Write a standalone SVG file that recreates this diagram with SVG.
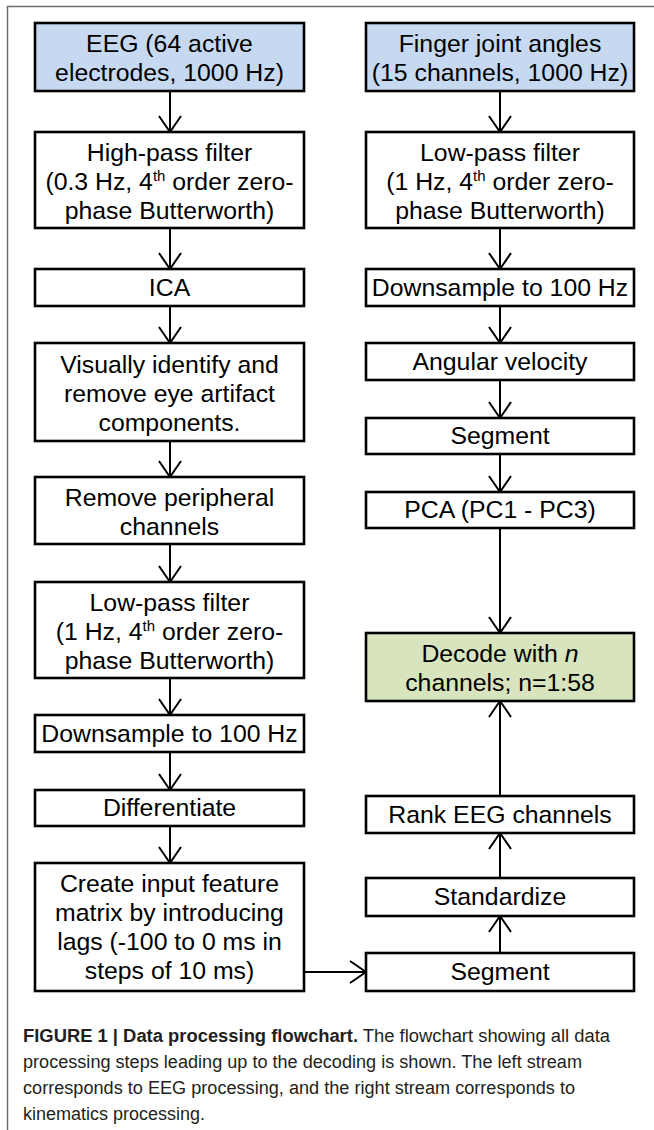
<svg xmlns="http://www.w3.org/2000/svg" width="654" height="1130" viewBox="0 0 654 1130">
<style>
.box{fill:#ffffff;stroke:#000000;stroke-width:2.6}
.blue{fill:#c6d9f1}
.green{fill:#d7e4bd}
.t{font-family:"Liberation Sans",Arial,sans-serif;font-size:24.8px;fill:#000000;text-anchor:middle}
.sup{font-size:15px}
.cap{font-family:"Liberation Sans",Arial,sans-serif;font-size:18px;fill:#231f20}
.conn{stroke:#000000;stroke-width:2;fill:none;marker-end:url(#arr)}
.frame{stroke:#6d6d6d;stroke-width:1.5;fill:none}
</style>
<defs>
<marker id="arr" markerUnits="userSpaceOnUse" markerWidth="22" markerHeight="28" viewBox="0 0 22 28" refX="19" refY="14" orient="auto">
<path d="M3,3 L19,14 L3,25" fill="none" stroke="#000000" stroke-width="2"/>
</marker>
</defs>
<rect width="654" height="1130" fill="#ffffff"/>
<path class="frame" d="M7.5,1130 L7.5,6.5 L654,6.5"/>

<g id="connectors">
<line class="conn" x1="170" y1="91" x2="170" y2="132"/>
<line class="conn" x1="170" y1="228" x2="170" y2="269"/>
<line class="conn" x1="170" y1="306" x2="170" y2="343"/>
<line class="conn" x1="170" y1="441" x2="170" y2="477"/>
<line class="conn" x1="170" y1="544" x2="170" y2="582"/>
<line class="conn" x1="170" y1="678" x2="170" y2="715"/>
<line class="conn" x1="170" y1="752" x2="170" y2="790"/>
<line class="conn" x1="170" y1="826" x2="170" y2="863"/>
<line class="conn" x1="500" y1="91" x2="500" y2="132"/>
<line class="conn" x1="500" y1="228" x2="500" y2="269"/>
<line class="conn" x1="500" y1="306" x2="500" y2="343"/>
<line class="conn" x1="500" y1="380" x2="500" y2="418"/>
<line class="conn" x1="500" y1="454" x2="500" y2="492"/>
<line class="conn" x1="500" y1="528" x2="500" y2="633"/>
<line class="conn" x1="500" y1="796" x2="500" y2="701"/>
<line class="conn" x1="500" y1="878" x2="500" y2="833"/>
<line class="conn" x1="500" y1="953" x2="500" y2="916"/>
<line class="conn" x1="304" y1="972" x2="366" y2="972"/>
</g>

<g id="eeg">
<rect class="box blue" x="35" y="23" width="269" height="68"/>
<text class="t" x="169.5" y="52">EEG (64 active</text>
<text class="t" x="169.5" y="81">electrodes, 1000 Hz)</text>
</g>
<g id="highpass">
<rect class="box" x="35" y="132" width="269" height="96"/>
<text class="t" x="169.5" y="161">High-pass filter</text>
<text class="t" x="169.5" y="190">(0.3 Hz, 4<tspan class="sup" dy="-9">th</tspan><tspan dy="9"> order zero-</tspan></text>
<text class="t" x="169.5" y="219">phase Butterworth)</text>
</g>
<g id="ica">
<rect class="box" x="35" y="269" width="269" height="37"/>
<text class="t" x="169.5" y="296">ICA</text>
</g>
<g id="visual">
<rect class="box" x="35" y="343" width="269" height="98"/>
<text class="t" x="169.5" y="373">Visually identify and</text>
<text class="t" x="169.5" y="402">remove eye artifact</text>
<text class="t" x="169.5" y="431">components.</text>
</g>
<g id="peripheral">
<rect class="box" x="35" y="477" width="269" height="67"/>
<text class="t" x="169.5" y="506">Remove peripheral</text>
<text class="t" x="169.5" y="535">channels</text>
</g>
<g id="lowpass-eeg">
<rect class="box" x="35" y="582" width="269" height="96"/>
<text class="t" x="169.5" y="611">Low-pass filter</text>
<text class="t" x="169.5" y="640">(1 Hz, 4<tspan class="sup" dy="-9">th</tspan><tspan dy="9"> order zero-</tspan></text>
<text class="t" x="169.5" y="669">phase Butterworth)</text>
</g>
<g id="downsample-eeg">
<rect class="box" x="35" y="715" width="269" height="37"/>
<text class="t" x="169.5" y="742">Downsample to 100 Hz</text>
</g>
<g id="differentiate">
<rect class="box" x="35" y="790" width="269" height="36"/>
<text class="t" x="169.5" y="816">Differentiate</text>
</g>
<g id="create">
<rect class="box" x="35" y="863" width="269" height="128"/>
<text class="t" x="169.5" y="892">Create input feature</text>
<text class="t" x="169.5" y="921">matrix by introducing</text>
<text class="t" x="169.5" y="950">lags (-100 to 0 ms in</text>
<text class="t" x="169.5" y="979">steps of 10 ms)</text>
</g>

<g id="finger">
<rect class="box blue" x="366" y="23" width="268" height="68"/>
<text class="t" x="500" y="52">Finger joint angles</text>
<text class="t" x="500" y="81">(15 channels, 1000 Hz)</text>
</g>
<g id="lowpass-kin">
<rect class="box" x="366" y="132" width="268" height="96"/>
<text class="t" x="500" y="161">Low-pass filter</text>
<text class="t" x="500" y="190">(1 Hz, 4<tspan class="sup" dy="-9">th</tspan><tspan dy="9"> order zero-</tspan></text>
<text class="t" x="500" y="219">phase Butterworth)</text>
</g>
<g id="downsample-kin">
<rect class="box" x="366" y="269" width="268" height="37"/>
<text class="t" x="500" y="296">Downsample to 100 Hz</text>
</g>
<g id="angular">
<rect class="box" x="366" y="343" width="268" height="37"/>
<text class="t" x="500" y="370">Angular velocity</text>
</g>
<g id="segment-kin">
<rect class="box" x="366" y="418" width="268" height="36"/>
<text class="t" x="500" y="444">Segment</text>
</g>
<g id="pca">
<rect class="box" x="366" y="492" width="268" height="36"/>
<text class="t" x="500" y="518">PCA (PC1 - PC3)</text>
</g>
<g id="decode">
<rect class="box green" x="366" y="633" width="268" height="68"/>
<text class="t" x="500" y="662">Decode with <tspan font-style="italic">n</tspan></text>
<text class="t" x="500" y="691">channels; n=1:58</text>
</g>
<g id="rank">
<rect class="box" x="366" y="796" width="268" height="37"/>
<text class="t" x="500" y="823">Rank EEG channels</text>
</g>
<g id="standardize">
<rect class="box" x="366" y="878" width="268" height="38"/>
<text class="t" x="500" y="905">Standardize</text>
</g>
<g id="segment-eeg">
<rect class="box" x="366" y="953" width="268" height="38"/>
<text class="t" x="500" y="980">Segment</text>
</g>

<g id="caption">
<text class="cap" x="23" y="1042" textLength="587" lengthAdjust="spacingAndGlyphs"><tspan font-weight="bold">FIGURE 1 | Data processing flowchart.</tspan> The flowchart showing all data</text>
<text class="cap" x="23" y="1068" textLength="559" lengthAdjust="spacingAndGlyphs">processing steps leading up to the decoding is shown. The left stream</text>
<text class="cap" x="23" y="1094" textLength="552" lengthAdjust="spacingAndGlyphs">corresponds to EEG processing, and the right stream corresponds to</text>
<text class="cap" x="23" y="1120">kinematics processing.</text>
</g>
</svg>
